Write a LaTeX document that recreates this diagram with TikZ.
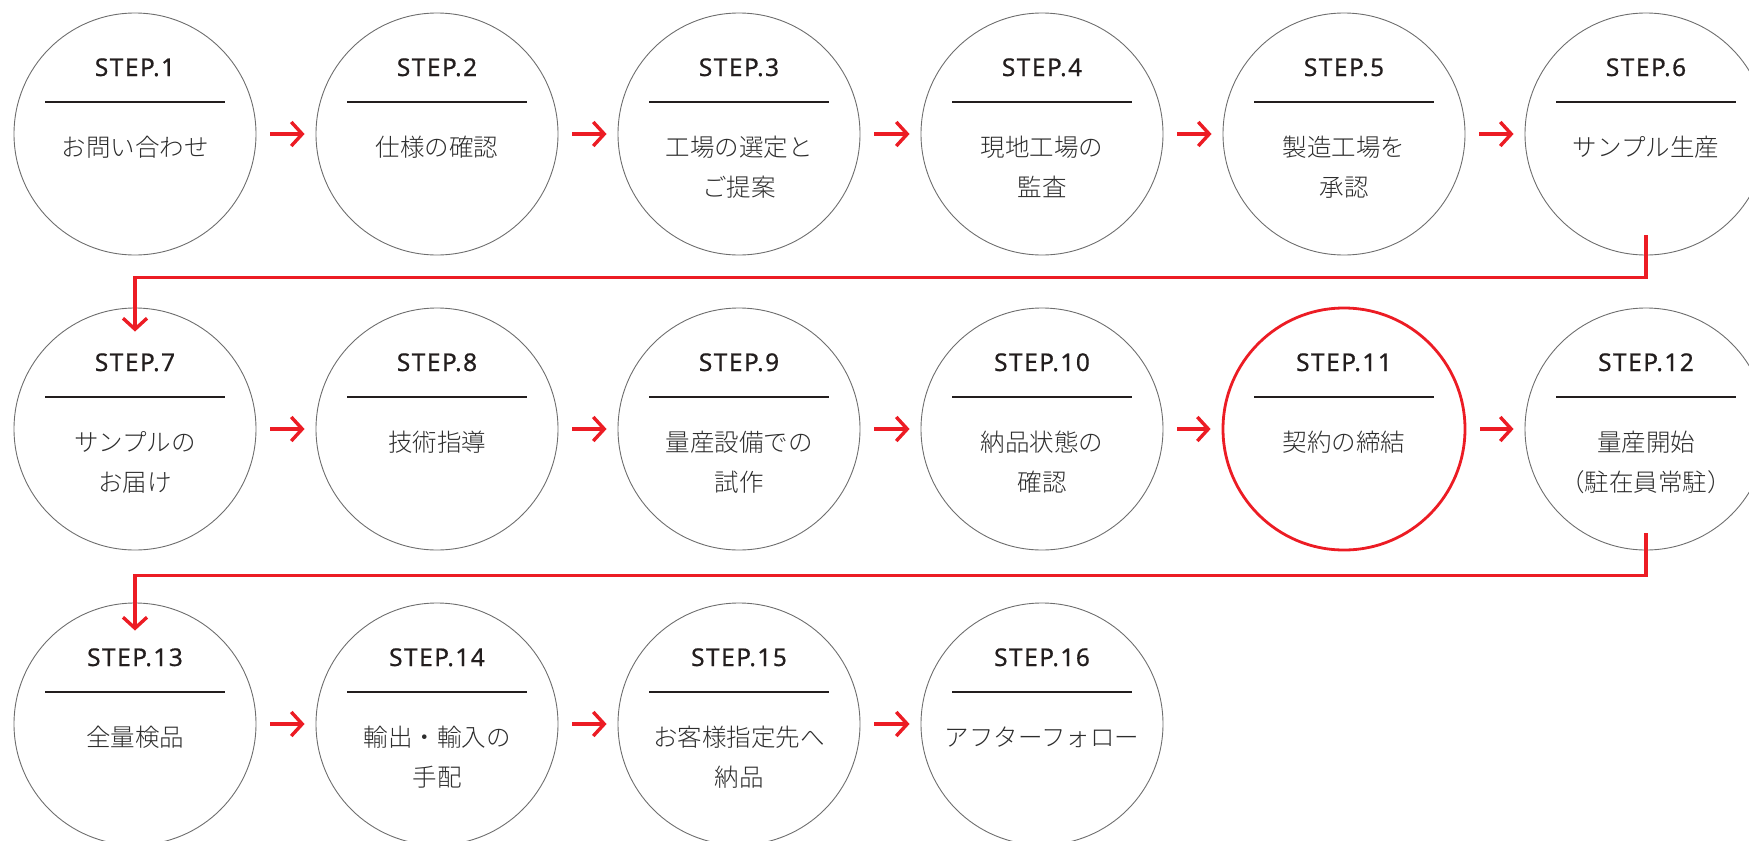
\documentclass[tikz,border=0pt]{standalone}
\usepackage{fontspec}
\setmainfont{Noto Sans CJK JP}
\newfontfamily\jpf{Noto Sans CJK JP}[UprightFont=* Light]
\newfontfamily\stepf{Noto Sans}[FakeBold=0.6,LetterSpace=6]
\usetikzlibrary{arrows.meta,calc}
\definecolor{flowred}{RGB}{236,28,36}
\definecolor{ringgray}{RGB}{110,110,110}
\definecolor{txtgray}{RGB}{45,45,45}
\definecolor{stepblack}{RGB}{35,30,30}
\tikzset{
  ring/.style={circle, draw=ringgray, line width=0.9pt, minimum size=242pt, inner sep=0pt},
  redring/.style={ring, draw=flowred, line width=2.8pt},
  steplabel/.style={anchor=base, inner sep=0pt, font=\stepf\fontsize{24.5}{28}\selectfont, text=stepblack},
  desc/.style={anchor=base, inner sep=0pt, font=\jpf\fontsize{24.5}{28}\selectfont, text=txtgray},
  sepline/.style={line width=1.3pt, draw=stepblack},
  flow/.style={draw=flowred, line width=3.4pt, -{Straight Barb[length=11pt,width=24pt]}},
}
\newcommand\stepnode[7]{%
  \node[#4] (#1) at (#2,#3) {};
  \node[steplabel] (#1l) at ($(#1.center)+(0,-58)$) {STEP.#5};
  \draw[sepline] ($(#1.center)+(-90,-32)$) -- ($(#1.center)+(90,-32)$);
  \node[desc] (#1a) at ($(#1.center)+(0,22)$) {#6};
  \if\relax\detokenize{#7}\relax\else
    \node[desc] (#1b) at ($(#1.center)+(0,62)$) {#7};
  \fi
}
\begin{document}
\begin{tikzpicture}[x=1pt,y=-1pt]
\useasboundingbox (0,0) rectangle (1749,841);
\clip (0,0) rectangle (1749,841);
% row 1
\stepnode{s1}{135}{134}{ring}{1}{お問い合わせ}{}
\stepnode{s2}{437}{134}{ring}{2}{仕様の確認}{}
\stepnode{s3}{739}{134}{ring}{3}{工場の選定と}{ご提案}
\stepnode{s4}{1042}{134}{ring}{4}{現地工場の}{監査}
\stepnode{s5}{1344}{134}{ring}{5}{製造工場を}{承認}
\stepnode{s6}{1646}{134}{ring}{6}{サンプル生産}{}
% row 2
\stepnode{s7}{135}{429}{ring}{7}{サンプルの}{お届け}
\stepnode{s8}{437}{429}{ring}{8}{技術指導}{}
\stepnode{s9}{739}{429}{ring}{9}{量産設備での}{試作}
\stepnode{s10}{1042}{429}{ring}{10}{納品状態の}{確認}
\stepnode{s11}{1344}{429}{redring}{11}{契約の締結}{}
\stepnode{s12}{1646}{429}{ring}{12}{量産開始}{（駐在員常駐）}
% row 3
\stepnode{s13}{135}{724}{ring}{13}{全量検品}{}
\stepnode{s14}{437}{724}{ring}{14}{輸出・輸入の}{手配}
\stepnode{s15}{739}{724}{ring}{15}{お客様指定先へ}{納品}
\stepnode{s16}{1042}{724}{ring}{16}{アフターフォロー}{}
% horizontal arrows
\foreach \a/\b in {s1/s2,s2/s3,s3/s4,s4/s5,s5/s6,s7/s8,s8/s9,s9/s10,s10/s11,s11/s12,s13/s14,s14/s15,s15/s16}
  \draw[flow] ($(\a.east)+(14,0)$) -- ($(\b.west)+(-11,0)$);
% row changes
\draw[flow] ($(s6.south)+(0,-20)$) |- ($(s7.north)+(0,-30)$) -- ($(s7.north)+(0,24)$);
\draw[flow] ($(s12.south)+(0,-17)$) |- ($(s13.north)+(0,-27)$) -- ($(s13.north)+(0,28)$);
\end{tikzpicture}
\end{document}
